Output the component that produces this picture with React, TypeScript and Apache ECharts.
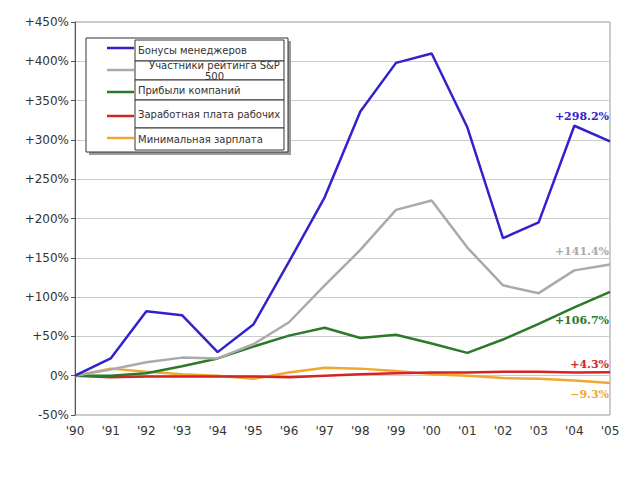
import React, { useEffect, useRef } from "react";
import * as echarts from "echarts";

const years = ["'90", "'91", "'92", "'93", "'94", "'95", "'96", "'97", "'98", "'99", "'00", "'01", "'02", "'03", "'04", "'05"];
const bonuses = [0, 22, 82, 77, 30, 65, 145, 227, 336, 398, 410, 316, 175, 195, 318, 298.2];
const sp500 = [0, 8, 17, 23, 22, 40, 68, 115, 160, 211, 223, 163, 115, 105, 134, 141.4];
const profits = [0, 0, 3, 12, 22, 37, 51, 61, 48, 52, 41, 29, 46, 66, 87, 106.7];
const wages = [0, -2, -1, -1, -1, -1, -2, 0, 2, 3, 4, 4, 5, 5, 4, 4.3];
const minWage = [0, 9, 5, 2, 0, -4, 4, 10, 9, 6, 2, 0, -3, -4, -6, -9.3];
const seriesNames = ["Бонусы менеджеров", "Участники рейтинга S&P\n500", "Прибыли компаний", "Заработная плата рабочих", "Минимальная зарплата"];
const colors = ["#3322cc", "#aaaaaa", "#2a7a2a", "#d42424", "#f0a830"];
const endLabels = ["+298.2%", "+141.4%", "+106.7%", "+4.3%", "\u22129.3%"];
const labelOffsets = [-25, -13, 29, -8, 11];

export default function App() {
  const ref = useRef<HTMLDivElement>(null);
  useEffect(() => {
    if (!ref.current) return;
    const chart = echarts.init(ref.current, null, { renderer: "svg" });
    const datasets = [bonuses, sp500, profits, wages, minWage];
    const font = "DejaVu Sans, Verdana, sans-serif";
    const series = datasets.map((d, i) => ({
      name: seriesNames[i],
      type: "line",
      data: d,
      symbol: "none",
      z: 10 - i,
      lineStyle: { color: colors[i], width: 2.5 },
      itemStyle: { color: colors[i] },
      markPoint: {
        symbol: "circle",
        symbolSize: 0,
        silent: true,
        itemStyle: { color: "transparent" },
        data: [
          {
            coord: [d.length - 1, d[d.length - 1]],
            label: {
              show: true,
              position: "inside",
              align: "right",
              verticalAlign: "middle",
              offset: [-1, labelOffsets[i]],
              formatter: endLabels[i],
              color: colors[i],
              fontFamily: "DejaVu Serif, serif",
              fontWeight: "bold",
              fontSize: 11,
            },
          },
        ],
      },
    }));

    // legend as graphic table
    const lx = 86, ly = 38, lw = 202, lh = 114;
    const rows = [
      { top: 40, bottom: 61, lineY: 48 },
      { top: 61, bottom: 80, lineY: 70 },
      { top: 80, bottom: 100, lineY: 92 },
      { top: 100, bottom: 128, lineY: 116 },
      { top: 128, bottom: 150, lineY: 138 },
    ];
    const cellX = 135, cellW = 149;
    const legendEls: any[] = [
      { type: "rect", shape: { x: lx + 3, y: ly + 3, width: lw, height: lh }, style: { fill: "#999" }, z: 100 },
      { type: "rect", shape: { x: lx, y: ly, width: lw, height: lh }, style: { fill: "#fff", stroke: "#333", lineWidth: 1 }, z: 101 },
    ];
    rows.forEach((r, i) => {
      legendEls.push({ type: "rect", shape: { x: cellX, y: r.top, width: cellW, height: r.bottom - r.top }, style: { fill: "#fff", stroke: "#333", lineWidth: 1 }, z: 102 });
      legendEls.push({ type: "line", shape: { x1: 107, y1: r.lineY, x2: 134, y2: r.lineY }, style: { stroke: colors[i], lineWidth: 2.5 }, z: 103 });
      const centered = i === 1;
      legendEls.push({
        type: "text",
        x: centered ? cellX + cellW / 2 + 5 : cellX + 3,
        y: (r.top + r.bottom) / 2,
        style: {
          text: seriesNames[i],
          fill: "#333",
          font: "10px DejaVu Sans, Verdana, sans-serif",
          align: centered ? "center" : "left",
          verticalAlign: "middle",
          lineHeight: 11,
        },
        z: 104,
      });
    });

    chart.setOption({
      animation: false,
      backgroundColor: "#fff",
      grid: { left: 75, right: 30, top: 22, bottom: 65, show: true, borderColor: "#999", borderWidth: 1 },
      xAxis: {
        type: "category",
        data: years,
        boundaryGap: false,
        axisLine: { show: false },
        axisTick: { show: false },
        axisLabel: { color: "#333", fontFamily: font, fontSize: 12, margin: 10, interval: 0 },
        splitLine: { show: false },
      },
      yAxis: {
        type: "value",
        min: -50,
        max: 450,
        interval: 50,
        axisLine: { show: true, lineStyle: { color: "#555" } },
        axisTick: { show: true, length: 4, lineStyle: { color: "#555" } },
        axisLabel: {
          color: "#333",
          fontFamily: font,
          fontSize: 12,
          margin: 6,
          formatter: (v: number) => (v > 0 ? "+" + v + "%" : v + "%"),
        },
        splitLine: { show: true, lineStyle: { color: "#ccc", width: 1 } },
      },
      series,
      graphic: legendEls,
    });
    return () => chart.dispose();
  }, []);
  return <div ref={ref} style={{ width: 640, height: 480, position: "absolute", left: 0, top: 0 }} />;
}
